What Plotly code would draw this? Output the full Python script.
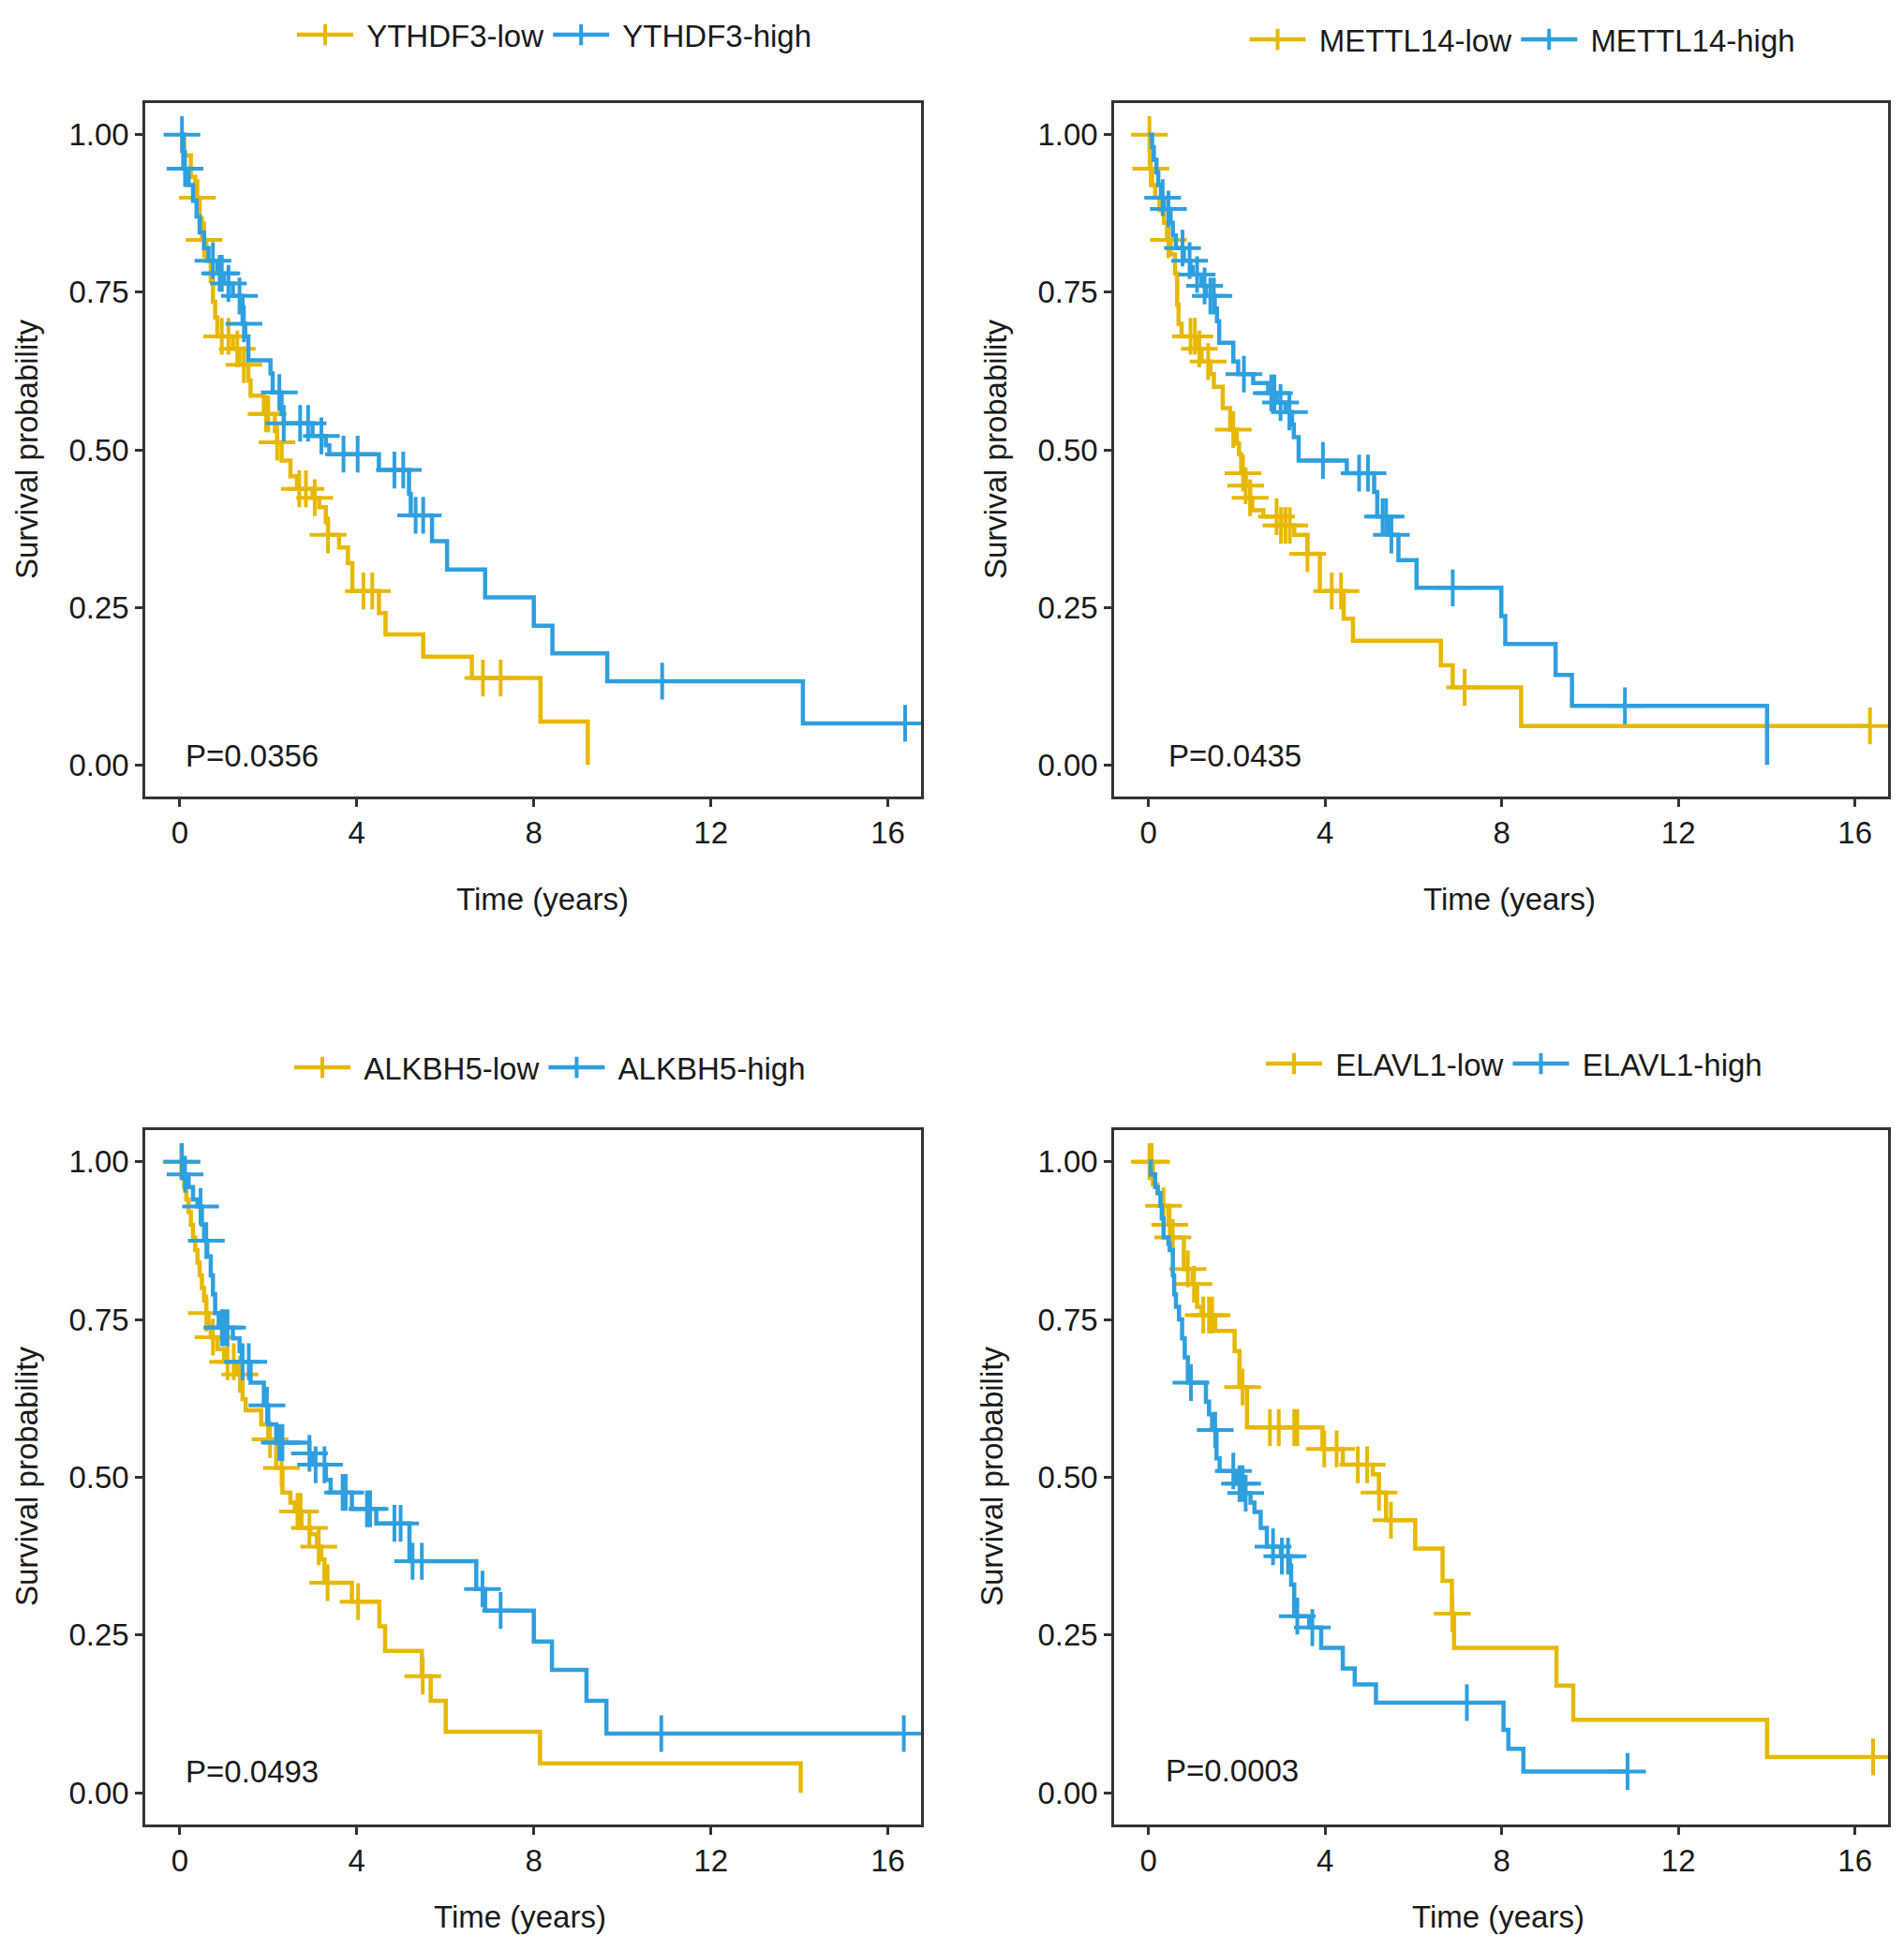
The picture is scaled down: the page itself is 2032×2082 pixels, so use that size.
import numpy as np
import plotly.graph_objects as go

# ---------------- data ----------------
time_ticks = [0, 4, 8, 12, 16]
surv_ticks = [0.0, 0.25, 0.5, 0.75, 1.0]
genes = ["YTHDF3", "METTL14", "ALKBH5", "ELAVL1"]
p_values = ["P=0.0356", "P=0.0435", "P=0.0493", "P=0.0003"]

# YTHDF3
ythdf3_low_t = [0.1, 0.25, 0.35, 0.45, 0.5, 0.6, 0.7, 0.75, 0.8, 0.85, 1.2, 1.35, 1.55, 1.6, 1.9, 2.15, 2.2, 2.3, 2.5,
                2.65, 3.0, 3.15, 3.3, 3.35, 3.6, 3.8, 3.9, 4.5, 4.65, 5.5, 6.6, 8.15, 9.22]
ythdf3_low_s = [0.967, 0.933, 0.9, 0.867, 0.833, 0.8, 0.768, 0.735, 0.71, 0.68, 0.66, 0.635, 0.61, 0.586, 0.557, 0.53,
                0.512, 0.483, 0.458, 0.438, 0.424, 0.409, 0.385, 0.365, 0.345, 0.32, 0.276, 0.241, 0.207, 0.172, 0.138,
                0.069, 0.0]
ythdf3_low_c = [0.4, 0.55, 0.95, 1.1, 1.3, 1.45, 1.95, 2.0, 2.2, 2.7, 2.85, 3.05, 3.35, 4.15, 4.35, 6.85, 7.25]
ythdf3_high_t = [0.08, 0.2, 0.3, 0.38, 0.45, 0.55, 0.65, 0.85, 1.0, 1.2, 1.42, 1.48, 1.55, 2.05, 2.1, 2.3, 2.35, 3.0,
                 3.3, 3.38, 4.5, 5.18, 5.22, 5.7, 6.04, 6.9, 8.0, 8.42, 9.66, 14.08]
ythdf3_high_s = [0.946, 0.92, 0.895, 0.87, 0.845, 0.82, 0.8, 0.78, 0.764, 0.744, 0.7, 0.68, 0.642, 0.621, 0.591, 0.557,
                 0.542, 0.522, 0.507, 0.493, 0.468, 0.43, 0.396, 0.355, 0.31, 0.266, 0.221, 0.177, 0.133, 0.066]
ythdf3_high_c = [0.05, 0.12, 0.75, 0.9, 0.95, 1.1, 1.35, 1.45, 2.25, 2.35, 2.72, 2.9, 3.2, 3.7, 4.02, 4.85, 5.05, 5.33,
                 5.5, 10.9, 16.39]

# METTL14
mettl14_low_t = [0.03, 0.08, 0.15, 0.25, 0.35, 0.42, 0.5, 0.6, 0.65, 0.68, 0.75, 1.1, 1.2, 1.4, 1.48, 1.68, 1.85, 2.0,
                 2.05, 2.1, 2.2, 2.3, 2.35, 2.6, 3.0, 3.3, 3.6, 3.88, 4.42, 4.63, 6.62, 6.89, 8.44]
mettl14_low_s = [0.946, 0.92, 0.9, 0.88, 0.86, 0.833, 0.81, 0.78, 0.73, 0.7, 0.68, 0.66, 0.64, 0.62, 0.6, 0.566, 0.532,
                 0.51, 0.493, 0.463, 0.443, 0.424, 0.404, 0.394, 0.38, 0.365, 0.335, 0.276, 0.232, 0.197, 0.158, 0.123,
                 0.062]
mettl14_low_c = [0.02, 0.05, 0.45, 0.95, 1.05, 1.15, 1.35, 1.92, 2.14, 2.2, 2.3, 2.9, 3.0, 3.1, 3.2, 3.6, 4.15, 4.36,
                 7.16, 16.34]
mettl14_high_t = [0.08, 0.12, 0.18, 0.22, 0.28, 0.35, 0.5, 0.55, 0.62, 0.8, 0.95, 1.0, 1.2, 1.3, 1.5, 1.55, 1.6, 1.92,
                  2.03, 2.37, 2.71, 2.9, 3.1, 3.25, 3.29, 3.4, 4.49, 5.11, 5.18, 5.45, 5.66, 6.07, 7.99, 8.08, 9.22,
                  9.59, 14.01]
mettl14_high_s = [0.98, 0.96, 0.94, 0.92, 0.9, 0.882, 0.86, 0.84, 0.82, 0.8, 0.79, 0.778, 0.76, 0.744, 0.724, 0.704,
                  0.67, 0.64, 0.62, 0.606, 0.59, 0.575, 0.56, 0.54, 0.52, 0.483, 0.463, 0.433, 0.394, 0.365, 0.325,
                  0.281, 0.236, 0.192, 0.143, 0.094, 0.0]
mettl14_high_c = [0.32, 0.45, 0.77, 0.93, 1.1, 1.27, 1.4, 1.48, 2.16, 2.78, 2.85, 2.99, 3.19, 3.95, 4.77, 4.97, 5.3,
                  5.38, 5.5, 6.89, 10.79]

# ALKBH5
alkbh5_low_t = [0.05, 0.1, 0.15, 0.2, 0.25, 0.3, 0.35, 0.4, 0.45, 0.5, 0.55, 0.6, 0.65, 0.7, 0.85, 1.0, 1.3, 1.42,
                1.49, 1.84, 2.0, 2.18, 2.32, 2.5, 2.6, 2.75, 2.95, 3.1, 3.2, 3.27, 3.89, 4.51, 4.64, 5.47, 5.67, 6.01,
                8.14, 14.03]
alkbh5_low_s = [0.98, 0.96, 0.94, 0.92, 0.9, 0.88, 0.86, 0.84, 0.82, 0.8, 0.78, 0.76, 0.74, 0.722, 0.703, 0.683, 0.663,
                0.624, 0.606, 0.584, 0.56, 0.515, 0.476, 0.46, 0.446, 0.42, 0.41, 0.39, 0.37, 0.333, 0.303, 0.264,
                0.225, 0.185, 0.146, 0.097, 0.047, 0.0]
alkbh5_low_c = [0.03, 0.6, 0.75, 1.08, 1.22, 1.36, 2.04, 2.3, 2.66, 2.73, 2.93, 3.14, 3.34, 4.03, 5.49]
alkbh5_high_t = [0.08, 0.2, 0.3, 0.4, 0.5, 0.55, 0.62, 0.7, 0.75, 0.8, 0.88, 1.2, 1.35, 1.4, 1.6, 1.9, 2.0, 2.18, 2.93,
                 3.0, 3.3, 3.41, 3.89, 4.44, 5.19, 6.7, 6.9, 8.0, 8.41, 9.19, 9.64]
alkbh5_high_s = [0.98, 0.96, 0.94, 0.929, 0.9, 0.875, 0.85, 0.82, 0.79, 0.76, 0.737, 0.72, 0.7, 0.683, 0.65, 0.614,
                 0.584, 0.555, 0.538, 0.52, 0.496, 0.476, 0.45, 0.427, 0.367, 0.323, 0.289, 0.24, 0.195, 0.146, 0.094]
alkbh5_high_c = [0.05, 0.12, 0.47, 0.6, 0.95, 1.0, 1.08, 1.42, 1.56, 1.97, 2.25, 2.32, 2.93, 3.07, 3.27, 3.68, 3.75,
                 4.23, 4.3, 4.85, 4.99, 5.26, 5.47, 6.84, 7.25, 10.88, 16.36]

# ELAVL1
elavl1_low_t = [0.1, 0.2, 0.3, 0.45, 0.5, 0.8, 1.0, 1.1, 1.2, 1.51, 1.95, 2.06, 2.23, 3.94, 4.4, 5.08, 5.22, 5.38,
                6.04, 6.66, 6.87, 6.92, 9.24, 9.62, 14.01]
elavl1_low_s = [0.964, 0.95, 0.93, 0.9, 0.88, 0.83, 0.806, 0.77, 0.757, 0.732, 0.7, 0.643, 0.579, 0.545, 0.52, 0.505,
                0.476, 0.432, 0.387, 0.336, 0.284, 0.23, 0.17, 0.116, 0.057]
elavl1_low_c = [0.02, 0.07, 0.34, 0.48, 0.55, 0.89, 1.03, 1.24, 1.37, 1.44, 2.13, 2.75, 2.95, 3.3, 3.37, 3.98, 4.26,
                4.74, 4.95, 5.22, 5.49, 6.88, 16.41]
elavl1_high_t = [0.05, 0.15, 0.21, 0.27, 0.3, 0.34, 0.45, 0.48, 0.55, 0.58, 0.62, 0.69, 0.76, 0.82, 0.89, 1.3, 1.37,
                 1.44, 1.54, 1.61, 1.99, 2.15, 2.31, 2.4, 2.54, 2.68, 3.0, 3.2, 3.23, 3.3, 3.64, 3.91, 4.4, 4.67, 5.15,
                 8.04, 8.15, 8.49]
elavl1_high_s = [0.98, 0.96, 0.95, 0.93, 0.91, 0.88, 0.87, 0.86, 0.82, 0.79, 0.77, 0.75, 0.72, 0.69, 0.65, 0.62, 0.6,
                 0.575, 0.53, 0.51, 0.49, 0.475, 0.46, 0.445, 0.42, 0.39, 0.375, 0.36, 0.33, 0.28, 0.262, 0.23, 0.197,
                 0.172, 0.143, 0.1, 0.07, 0.034]
elavl1_high_c = [0.96, 1.51, 1.92, 2.06, 2.13, 2.2, 2.82, 3.02, 3.16, 3.37, 3.71, 7.21, 10.85]

curves = [
    ((ythdf3_low_t, ythdf3_low_s, ythdf3_low_c), (ythdf3_high_t, ythdf3_high_s, ythdf3_high_c)),
    ((mettl14_low_t, mettl14_low_s, mettl14_low_c), (mettl14_high_t, mettl14_high_s, mettl14_high_c)),
    ((alkbh5_low_t, alkbh5_low_s, alkbh5_low_c), (alkbh5_high_t, alkbh5_high_s, alkbh5_high_c)),
    ((elavl1_low_t, elavl1_low_s, elavl1_low_c), (elavl1_high_t, elavl1_high_s, elavl1_high_c)),
]

# ---------------- style / layout ----------------
W, H = 2032, 2082          # browser window
OFF = 8                    # default page body margin
FW, FH = W - 2 * OFF, H - 2 * OFF
COL_LOW = "#E7B800"
COL_HIGH = "#2E9FDF"
FONT = "Liberation Sans, Arial, Helvetica, sans-serif"
FS = 33
AX_COL = "#333333"
TXT = "#1a1a1a"


def px(x):
    return (x - OFF) / FW


def py(y):
    return 1 - (y - OFF) / FH


# window-pixel boxes (left, right, top, bottom)
boxes = [(155, 983, 110, 850), (1189, 2015, 110, 850), (155, 983, 1206, 1947), (1189, 2015, 1206, 1947)]
legend_pos = [(592, 37), (1625, 42), (587, 1139), (1616, 1135)]
xtitle_pos = [(579, 959), (1611, 959), (555, 2045), (1599, 2045)]
ytitle_pos = [(28, 480), (1062, 480), (28, 1576), (1058, 1576)]
p_pos = [(0.08, 0.014), (0.4, 0.014), (0.08, 0.034), (0.35, 0.035)]


def step_xy(t, s, c):
    xs = [0.0] + list(t)
    ys = [1.0] + list(s)
    end = max(max(c) if len(c) else 0.0, t[-1])
    if end > xs[-1]:
        xs.append(end)
        ys.append(ys[-1])
    return xs, ys


def surv_at(t, s, c):
    idx = np.searchsorted(np.array(t), np.array(c), side="right")
    vals = np.concatenate([[1.0], np.array(s)])
    return vals[idx]


fig = go.Figure()
annotations = []
layout_upd = {}

for i, (gene, pv, (low, high)) in enumerate(zip(genes, p_values, curves)):
    n = i + 1
    xa = "x" if n == 1 else f"x{n}"
    ya = "y" if n == 1 else f"y{n}"
    leg = "legend" if n == 1 else f"legend{n}"
    for (t, s, c), col, lab in ((low, COL_LOW, f"{gene}-low"), (high, COL_HIGH, f"{gene}-high")):
        xs, ys = step_xy(t, s, c)
        fig.add_trace(go.Scatter(x=xs, y=ys, mode="lines", line=dict(color=col, width=4.5, shape="hv"),
                                 xaxis=xa, yaxis=ya, showlegend=False, hoverinfo="skip"))
        fig.add_trace(go.Scatter(x=c, y=surv_at(t, s, c), mode="markers",
                                 marker=dict(symbol="cross-thin", size=28, color=col,
                                             line=dict(color=col, width=4)),
                                 xaxis=xa, yaxis=ya, showlegend=False, hoverinfo="skip"))
        fig.add_trace(go.Scatter(x=[None], y=[None], mode="lines+markers", name="\u00a0" + lab,
                                 line=dict(color=col, width=4.5),
                                 marker=dict(symbol="cross-thin", size=24, color=col,
                                             line=dict(color=col, width=4)),
                                 xaxis=xa, yaxis=ya, legend=leg))

    l, r, tp, bt = boxes[i]
    axis_common = dict(showline=True, mirror=True, linecolor=AX_COL, linewidth=2.5, ticks="outside",
                       ticklen=8, tickwidth=2.5, tickcolor=AX_COL, showgrid=False, zeroline=False,
                       tickfont=dict(family=FONT, size=FS, color=TXT))
    layout_upd["xaxis" if n == 1 else f"xaxis{n}"] = dict(
        axis_common, domain=[px(l), px(r)], range=[-0.78, 16.75], tickvals=time_ticks, anchor=ya)
    layout_upd["yaxis" if n == 1 else f"yaxis{n}"] = dict(
        axis_common, domain=[py(bt), py(tp)], range=[-0.05, 1.05], tickvals=surv_ticks,
        tickformat=".2f", anchor=xa)
    lx, ly = legend_pos[i]
    layout_upd[leg] = dict(orientation="h", x=px(lx), y=py(ly), xanchor="center", yanchor="middle",
                           xref="paper", yref="paper", bgcolor="rgba(0,0,0,0)",
                           font=dict(family=FONT, size=FS, color=TXT), itemwidth=60, tracegroupgap=0)
    tx, ty = xtitle_pos[i]
    annotations.append(dict(text="Time (years)", x=px(tx), y=py(ty), xref="paper", yref="paper",
                            showarrow=False, xanchor="center", yanchor="middle",
                            font=dict(family=FONT, size=FS, color=TXT)))
    yx, yy = ytitle_pos[i]
    annotations.append(dict(text="Survival probability", x=px(yx), y=py(yy), xref="paper", yref="paper",
                            showarrow=False, xanchor="center", yanchor="middle", textangle=-90,
                            font=dict(family=FONT, size=FS, color=TXT)))
    p_x, p_y = p_pos[i]
    annotations.append(dict(text=pv, x=p_x, y=p_y, xref=xa, yref=ya, showarrow=False,
                            xanchor="left", yanchor="middle",
                            font=dict(family=FONT, size=FS, color=TXT)))

fig.update_layout(width=FW, height=FH, margin=dict(l=0, r=0, t=0, b=0), paper_bgcolor="white",
                  plot_bgcolor="white", annotations=annotations, **layout_upd)

fig.write_html("out.html")
